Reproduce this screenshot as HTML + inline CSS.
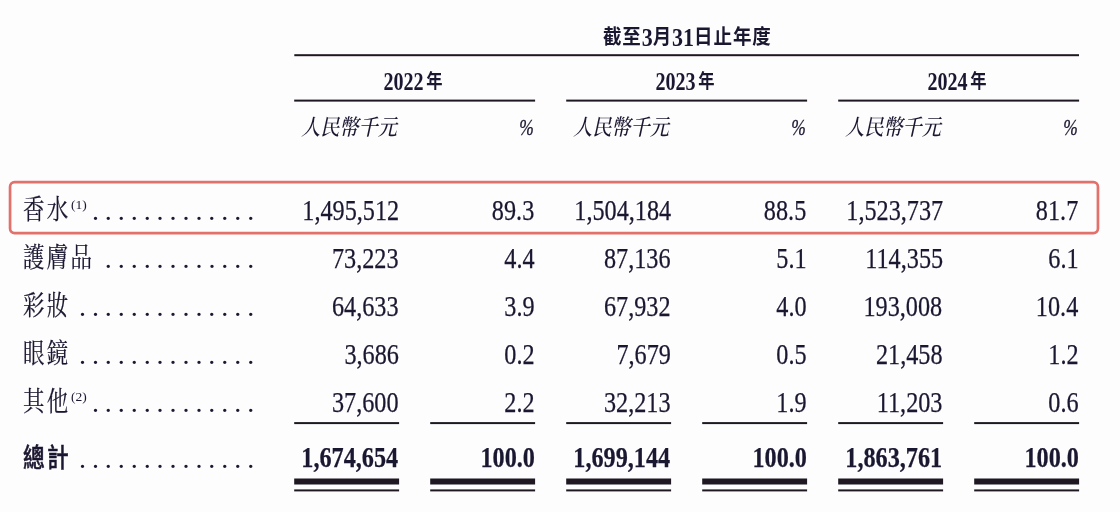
<!DOCTYPE html>
<html lang="zh-Hant">
<head>
<meta charset="utf-8">
<title>table</title>
<style>
html,body{margin:0;padding:0;}
body{filter:blur(.4px);}
body{width:1120px;height:512px;overflow:hidden;background:#fdfdfe;position:relative;color:#1a1730;font-family:"Liberation Serif","Noto Serif CJK SC",serif;}
.a{position:absolute;white-space:nowrap;line-height:1;}
.n{-webkit-text-stroke:0.25px #1a1730;font-size:29.3px;transform:scaleX(0.827);transform-origin:right bottom;text-align:right;}
.b{font-weight:bold;}
.l{-webkit-text-stroke:0.2px #1a1730;font-family:"Liberation Serif","Noto Serif CJK SC",serif;font-size:27.2px;letter-spacing:2.9px;transform:scaleX(0.79);transform-origin:left bottom;}
.lb{font-family:"Liberation Sans","Noto Sans CJK TC",sans-serif;font-weight:500;-webkit-text-stroke:0.5px #1a1730;font-size:26px;letter-spacing:2.7px;transform:scaleX(0.834);transform-origin:left bottom;}
.sup{font-size:13px;font-family:"Liberation Serif",serif;transform:scaleX(1.04);transform-origin:left bottom;}
.d{font-size:28px;transform-origin:right bottom;}
.hl{position:absolute;background:#1f1822;height:2px;}
.h1{font-family:"Liberation Serif","Noto Sans CJK TC",sans-serif;font-weight:bold;font-size:22px;transform:scaleY(1.12);}
.h1 i{font-style:normal;font-size:18.5px;letter-spacing:0.9px;position:relative;top:-2.5px;}
.h2{font-family:"Liberation Serif","Noto Sans CJK TC",serif;font-weight:bold;font-size:20.1px;transform:scaleY(1.22);}
.h2 i{font-style:normal;font-size:16.3px;margin-left:2.7px;position:relative;top:-1.6px;}
.u{font-family:"Liberation Serif","Noto Serif CJK SC",serif;font-style:italic;font-weight:500;font-size:22.3px;transform:scaleX(.86);transform-origin:left bottom;}
.p{font-family:"Liberation Serif",serif;font-style:italic;-webkit-text-stroke:0.3px #1a1730;font-size:22.5px;transform:scaleX(.775);transform-origin:right bottom;}
svg{position:absolute;left:0;top:0;}
</style>
</head>
<body>

<div class="a h1" style="left:587.3px;top:28.2px;width:200px;text-align:center;transform-origin:50% 18.4px;"><i>截至</i>3<i>月</i>31<i>日止年度</i></div>
<div class="a h2" style="left:313px;top:72.5px;width:200px;text-align:center;transform-origin:50% 16.8px;">2022<i>年</i></div>
<div class="a u" style="left:301px;top:116.9px;">人民幣千元</div>
<div class="a p" style="right:586px;top:117.3px;">%</div>
<div class="a h2" style="left:585px;top:72.5px;width:200px;text-align:center;transform-origin:50% 16.8px;">2023<i>年</i></div>
<div class="a u" style="left:573px;top:116.9px;">人民幣千元</div>
<div class="a p" style="right:314px;top:117.3px;">%</div>
<div class="a h2" style="left:857px;top:72.5px;width:200px;text-align:center;transform-origin:50% 16.8px;">2024<i>年</i></div>
<div class="a u" style="left:845px;top:116.9px;">人民幣千元</div>
<div class="a p" style="right:42px;top:117.3px;">%</div>
<svg width="1120" height="512" viewBox="0 0 1120 512"><rect x="10.05" y="182.15" width="1087.9" height="50.9" rx="4.5" ry="4.5" fill="none" stroke="#e2706b" stroke-width="2.7"/><g fill="#1f1822"><rect x="294.30" y="54.20" width="784.70" height="2.00"/><rect x="294.20" y="99.60" width="240.90" height="2.00"/><rect x="566.20" y="99.60" width="240.90" height="2.00"/><rect x="838.20" y="99.60" width="240.90" height="2.00"/><rect x="294.20" y="422.10" width="104.90" height="2.00"/><rect x="430.20" y="422.10" width="104.90" height="2.00"/><rect x="566.20" y="422.10" width="104.90" height="2.00"/><rect x="702.20" y="422.10" width="104.90" height="2.00"/><rect x="838.20" y="422.10" width="104.90" height="2.00"/><rect x="974.20" y="422.10" width="104.90" height="2.00"/><rect x="294.20" y="478.50" width="104.90" height="6.00"/><rect x="294.20" y="489.40" width="104.90" height="2.00"/><rect x="430.20" y="478.50" width="104.90" height="6.00"/><rect x="430.20" y="489.40" width="104.90" height="2.00"/><rect x="566.20" y="478.50" width="104.90" height="6.00"/><rect x="566.20" y="489.40" width="104.90" height="2.00"/><rect x="702.20" y="478.50" width="104.90" height="6.00"/><rect x="702.20" y="489.40" width="104.90" height="2.00"/><rect x="838.20" y="478.50" width="104.90" height="6.00"/><rect x="838.20" y="489.40" width="104.90" height="2.00"/><rect x="974.20" y="478.50" width="104.90" height="6.00"/><rect x="974.20" y="489.40" width="104.90" height="2.00"/></g></svg>
<div class="a l" style="left:23px;top:196.8px;">香水</div>
<div class="a sup" style="left:70.5px;top:197.9px;">(1)</div>
<div class="a d" style="right:859.86px;top:197.2px;letter-spacing:5.94px;">.............</div>
<div class="a n" style="right:721.3px;top:195.85px;">1,495,512</div>
<div class="a n" style="right:585.3px;top:195.85px;">89.3</div>
<div class="a n" style="right:449.3px;top:195.85px;">1,504,184</div>
<div class="a n" style="right:313.3px;top:195.85px;">88.5</div>
<div class="a n" style="right:177.3px;top:195.85px;">1,523,737</div>
<div class="a n" style="right:41.3px;top:195.85px;">81.7</div>
<div class="a l" style="left:23px;top:244.7px;">護膚品</div>
<div class="a d" style="right:859.86px;top:245.1px;letter-spacing:5.94px;">............</div>
<div class="a n" style="right:721.3px;top:243.85px;">73,223</div>
<div class="a n" style="right:585.3px;top:243.85px;">4.4</div>
<div class="a n" style="right:449.3px;top:243.85px;">87,136</div>
<div class="a n" style="right:313.3px;top:243.85px;">5.1</div>
<div class="a n" style="right:177.3px;top:243.85px;">114,355</div>
<div class="a n" style="right:41.3px;top:243.85px;">6.1</div>
<div class="a l" style="left:23px;top:292.7px;">彩妝</div>
<div class="a d" style="right:859.86px;top:293.1px;letter-spacing:5.94px;">..............</div>
<div class="a n" style="right:721.3px;top:291.85px;">64,633</div>
<div class="a n" style="right:585.3px;top:291.85px;">3.9</div>
<div class="a n" style="right:449.3px;top:291.85px;">67,932</div>
<div class="a n" style="right:313.3px;top:291.85px;">4.0</div>
<div class="a n" style="right:177.3px;top:291.85px;">193,008</div>
<div class="a n" style="right:41.3px;top:291.85px;">10.4</div>
<div class="a l" style="left:23px;top:340.6px;">眼鏡</div>
<div class="a d" style="right:859.86px;top:340.9px;letter-spacing:5.94px;">..............</div>
<div class="a n" style="right:721.3px;top:339.85px;">3,686</div>
<div class="a n" style="right:585.3px;top:339.85px;">0.2</div>
<div class="a n" style="right:449.3px;top:339.85px;">7,679</div>
<div class="a n" style="right:313.3px;top:339.85px;">0.5</div>
<div class="a n" style="right:177.3px;top:339.85px;">21,458</div>
<div class="a n" style="right:41.3px;top:339.85px;">1.2</div>
<div class="a l" style="left:23px;top:388.5px;">其他</div>
<div class="a sup" style="left:70.5px;top:389.6px;">(2)</div>
<div class="a d" style="right:859.86px;top:388.9px;letter-spacing:5.94px;">.............</div>
<div class="a n" style="right:721.3px;top:387.85px;">37,600</div>
<div class="a n" style="right:585.3px;top:387.85px;">2.2</div>
<div class="a n" style="right:449.3px;top:387.85px;">32,213</div>
<div class="a n" style="right:313.3px;top:387.85px;">1.9</div>
<div class="a n" style="right:177.3px;top:387.85px;">11,203</div>
<div class="a n" style="right:41.3px;top:387.85px;">0.6</div>
<div class="a lb" style="left:23px;top:445.3px;">總計</div>
<div class="a d" style="right:859.86px;top:444.7px;letter-spacing:5.94px;">..............</div>
<div class="a n b" style="right:721.5px;top:442.85px;">1,674,654</div>
<div class="a n b" style="right:585.5px;top:442.85px;">100.0</div>
<div class="a n b" style="right:449.5px;top:442.85px;">1,699,144</div>
<div class="a n b" style="right:313.5px;top:442.85px;">100.0</div>
<div class="a n b" style="right:177.5px;top:442.85px;">1,863,761</div>
<div class="a n b" style="right:41.5px;top:442.85px;">100.0</div>
</body>
</html>
